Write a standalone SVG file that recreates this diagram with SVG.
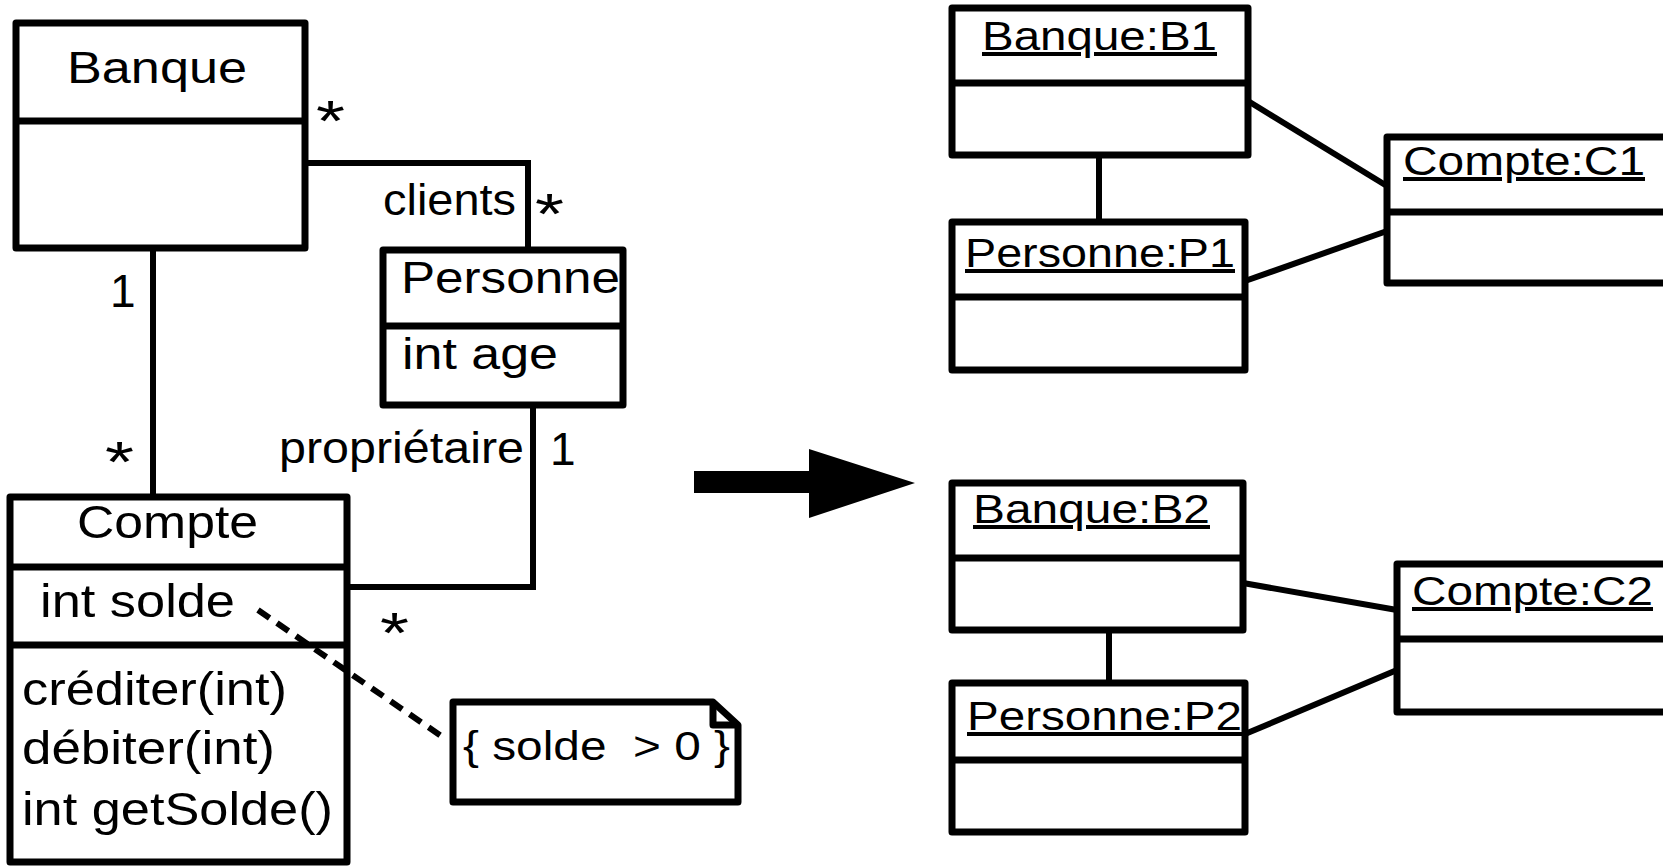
<svg xmlns="http://www.w3.org/2000/svg" width="1663" height="866" viewBox="0 0 1663 866">
<style>
.box{fill:none;stroke:#000;stroke-width:7;stroke-linejoin:round}
.div{stroke:#000;stroke-width:7}
.con{fill:none;stroke:#000;stroke-width:6;stroke-linejoin:miter}
.t{font-family:"Liberation Sans",Arial,sans-serif;font-size:44px;fill:#000}
.m{font-size:46px}
.o{font-size:40px;text-decoration:underline}
.star{font-family:"Liberation Sans",Arial,sans-serif;font-size:58px;fill:#000}
</style>
<rect width="1663" height="866" fill="#fff"/>
<g id="connectors">
<path class="con" d="M305,163 H528 V250"/>
<path class="con" d="M153,248 V497"/>
<path class="con" d="M533,405 V587 H347"/>
<path class="con" d="M258,610 L447,740" stroke-dasharray="14 9"/>
<path class="con" d="M1099,155 V222"/>
<path class="con" d="M1248,101 L1387,186" stroke-width="7"/>
<path class="con" d="M1245,281 L1387,231" stroke-width="7"/>
<path class="con" d="M1109,630 V683"/>
<path class="con" d="M1243,583 L1397,610" stroke-width="7"/>
<path class="con" d="M1245,734 L1397,670" stroke-width="7"/>
<polygon points="694,471 809,471 809,449 915,483 809,518 809,493 694,493" fill="#000"/>
</g>
<g id="labels">
<text class="t" x="383" y="215" textLength="133" lengthAdjust="spacingAndGlyphs">clients</text>
<text class="t" x="279" y="463" textLength="245" lengthAdjust="spacingAndGlyphs">propriétaire</text>
<text class="t m" x="550" y="465">1</text>
<text class="t m" x="110" y="307">1</text>
<text class="star" x="316" y="141" textLength="29" lengthAdjust="spacingAndGlyphs">*</text>
<text class="star" x="535" y="234" textLength="29" lengthAdjust="spacingAndGlyphs">*</text>
<text class="star" x="105" y="482" textLength="29" lengthAdjust="spacingAndGlyphs">*</text>
<text class="star" x="380" y="653" textLength="29" lengthAdjust="spacingAndGlyphs">*</text>
</g>
<g id="Banque">
<rect class="box" x="16" y="23" width="289" height="225"/>
<line class="div" x1="16" y1="121" x2="305" y2="121"/>
<text class="t" x="67" y="83" textLength="180" lengthAdjust="spacingAndGlyphs">Banque</text>
</g>
<g id="Personne">
<rect class="box" x="383" y="250" width="240" height="155"/>
<line class="div" x1="383" y1="326" x2="623" y2="326"/>
<text class="t" x="401" y="293" textLength="219" lengthAdjust="spacingAndGlyphs">Personne</text>
<text class="t" x="402" y="369" textLength="156" lengthAdjust="spacingAndGlyphs">int age</text>
</g>
<g id="Compte">
<rect class="box" x="10" y="497" width="337" height="365"/>
<line class="div" x1="10" y1="567" x2="347" y2="567"/>
<line class="div" x1="10" y1="645" x2="347" y2="645"/>
<text class="t m" x="77" y="538" textLength="181" lengthAdjust="spacingAndGlyphs">Compte</text>
<text class="t m" x="40" y="617" textLength="195" lengthAdjust="spacingAndGlyphs">int solde</text>
<text class="t m" x="22" y="705" textLength="265" lengthAdjust="spacingAndGlyphs">créditer(int)</text>
<text class="t m" x="22" y="764" textLength="253" lengthAdjust="spacingAndGlyphs">débiter(int)</text>
<text class="t m" x="22" y="825" textLength="311" lengthAdjust="spacingAndGlyphs">int getSolde()</text>
</g>
<g id="note">
<path class="box" d="M453,702 H713 L738,725 V802 H453 Z" stroke-width="6"/>
<path class="box" d="M713,702 V725 H738" stroke-width="5"/>
<text class="t" style="font-size:40px" x="463" y="760" textLength="267" lengthAdjust="spacingAndGlyphs">{ solde &#160;&gt; 0 }</text>
</g>
<g id="B1">
<rect class="box" x="952" y="8" width="296" height="147"/>
<line class="div" x1="952" y1="83" x2="1248" y2="83"/>
<text class="t o" x="982" y="50" textLength="235" lengthAdjust="spacingAndGlyphs">Banque:B1</text>
</g>
<g id="P1">
<rect class="box" x="952" y="222" width="293" height="148"/>
<line class="div" x1="952" y1="297" x2="1245" y2="297"/>
<text class="t o" x="965" y="267" textLength="270" lengthAdjust="spacingAndGlyphs">Personne:P1</text>
</g>
<g id="C1">
<rect class="box" x="1387" y="137" width="290" height="146"/>
<line class="div" x1="1387" y1="212" x2="1677" y2="212"/>
<text class="t o" x="1403" y="175" textLength="242" lengthAdjust="spacingAndGlyphs">Compte:C1</text>
</g>
<g id="B2">
<rect class="box" x="952" y="483" width="291" height="147"/>
<line class="div" x1="952" y1="558" x2="1243" y2="558"/>
<text class="t o" x="973" y="523" textLength="237" lengthAdjust="spacingAndGlyphs">Banque:B2</text>
</g>
<g id="P2">
<rect class="box" x="952" y="683" width="293" height="149"/>
<line class="div" x1="952" y1="760" x2="1245" y2="760"/>
<text class="t o" x="967" y="730" textLength="275" lengthAdjust="spacingAndGlyphs">Personne:P2</text>
</g>
<g id="C2">
<rect class="box" x="1397" y="564" width="280" height="148"/>
<line class="div" x1="1397" y1="639" x2="1677" y2="639"/>
<text class="t o" x="1412" y="605" textLength="241" lengthAdjust="spacingAndGlyphs">Compte:C2</text>
</g>
</svg>
